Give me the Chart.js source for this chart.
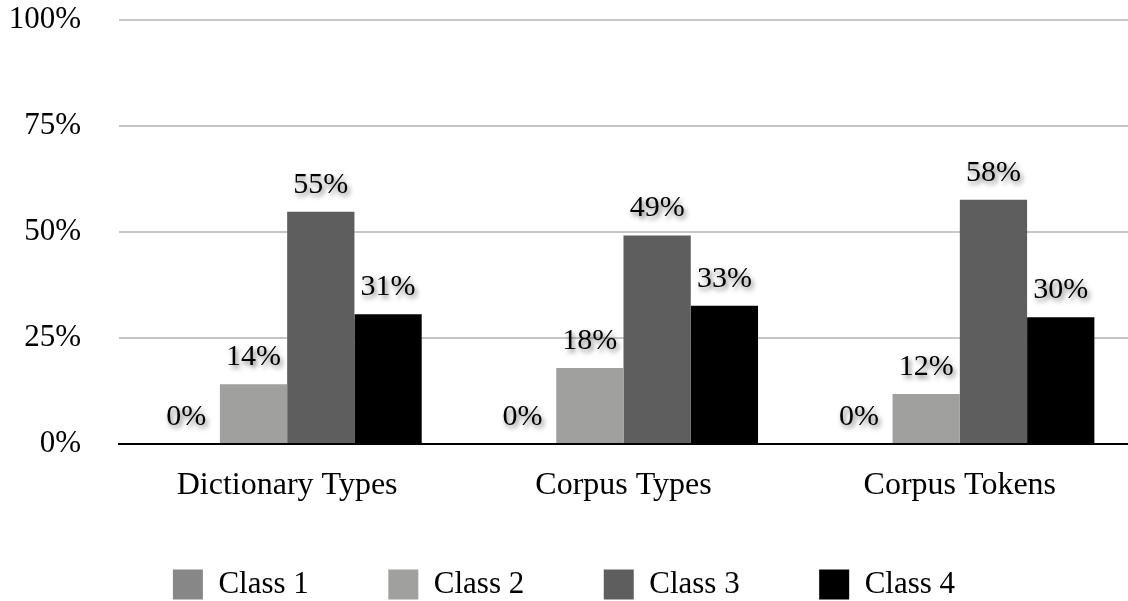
<!DOCTYPE html>
<html>
<head>
<meta charset="utf-8">
<script src="https://cdn.jsdelivr.net/npm/chart.js@4.4.1/dist/chart.umd.min.js"></script>
<style>
  html, body { margin: 0; padding: 0; background: #fff; }
  #wrap { position: relative; width: 1128px; height: 601px; }
</style>
</head>
<body>
<div id="wrap"><canvas id="bar-chart"></canvas></div>
<script>
const categories = ['Dictionary Types', 'Corpus Types', 'Corpus Tokens'];
const class1 = [0, 0, 0];
const class2 = [14.1, 17.9, 11.8];
const class3 = [54.8, 49.2, 57.6];
const class4 = [30.6, 32.6, 29.9];
const yTicks = [0, 25, 50, 75, 100];

const FONT = '"Liberation Serif", "Times New Roman", serif';

// value labels above each bar, with the soft drop shadow of the original
const barLabels = {
  id: 'barLabels',
  afterDatasetsDraw(chart) {
    const ctx = chart.ctx;
    ctx.save();
    ctx.font = '30px ' + FONT;
    ctx.textAlign = 'center';
    ctx.textBaseline = 'alphabetic';
    ctx.fillStyle = '#000';
    ctx.shadowColor = 'rgba(0,0,0,0.55)';
    ctx.shadowBlur = 5;
    ctx.shadowOffsetX = 2;
    ctx.shadowOffsetY = 3;
    chart.data.datasets.forEach((ds, i) => {
      chart.getDatasetMeta(i).data.forEach((bar, j) => {
        ctx.fillText(Math.round(ds.data[j]) + '%', bar.x, bar.y - 19);
      });
    });
    ctx.restore();
  }
};

const ctx = document.getElementById('bar-chart').getContext('2d');

const config = {
  type: 'bar',
  data: {
    labels: categories,
    datasets: [
      { label: 'Class 1', data: class1, backgroundColor: '#878787' },
      { label: 'Class 2', data: class2, backgroundColor: '#a0a19f' },
      { label: 'Class 3', data: class3, backgroundColor: '#5d5e5d' },
      { label: 'Class 4', data: class4, backgroundColor: '#000000' },
    ],
  },
  options: {
    responsive: true,
    maintainAspectRatio: false,
    animation: false,
    layout: { padding: { top: 20, right: 0, left: 0, bottom: -9 } },
    datasets: {
      bar: { categoryPercentage: 0.8, barPercentage: 1.0 },
    },
    plugins: {
      tooltip: { enabled: false },
      legend: {
        position: 'bottom',
        labels: {
          color: '#000',
          font: { family: FONT, size: 31 },
          boxWidth: 30,
          boxHeight: 30,
          padding: 2,
          generateLabels(chart) {
            const items = Chart.defaults.plugins.legend.labels.generateLabels(chart);
            items.forEach((it, i) => {
              it.lineWidth = 0;
              if (i < items.length - 1) it.text = it.text + '\u00a0'.repeat(10);
            });
            return items;
          },
        },
      },
    },
    scales: {
      x: {
        grid: { display: false, drawTicks: false },
        border: { display: true, color: '#000', width: 2 },
        ticks: {
          color: '#000',
          font: { family: FONT, size: 32 },
          padding: 22,
        },
        afterFit(scale) { scale.height = 123; },
      },
      y: {
        min: 0,
        max: 100,
        afterBuildTicks(scale) { scale.ticks = yTicks.map(v => ({ value: v })); },
        grid: { color: '#c6c6c6', lineWidth: 2, drawTicks: false },
        border: { display: false },
        ticks: {
          color: '#000',
          font: { family: FONT, size: 31 },
          padding: 38,
          callback: (v) => v + '%',
        },
        afterFit(scale) {
          scale.width = 119;
          scale.paddingTop = 0;
          scale.paddingBottom = 0;
        },
      },
    },
  },
  plugins: [barLabels],
};

window.myBar = new Chart(ctx, config);
</script>
</body>
</html>
